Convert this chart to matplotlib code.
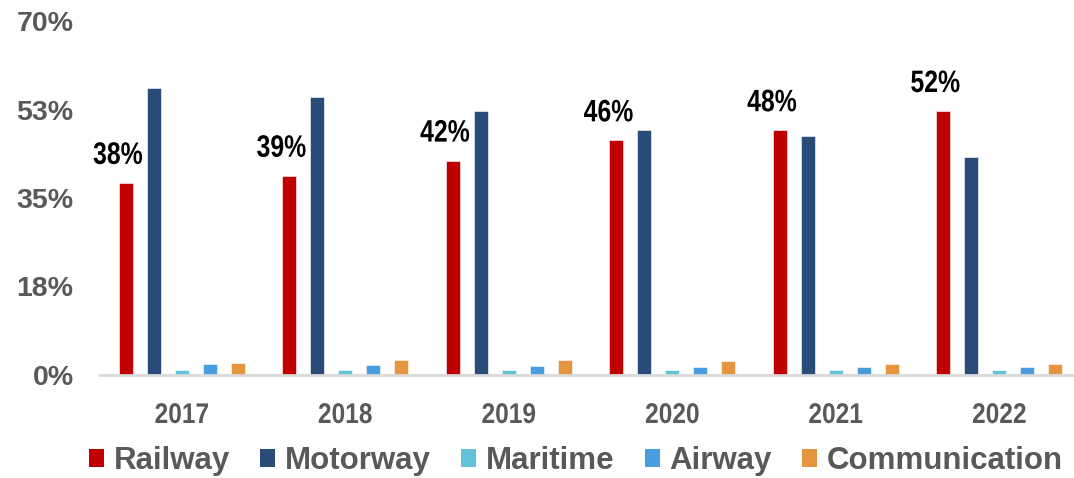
import matplotlib
matplotlib.use("Agg")
from matplotlib import pyplot as plt
from matplotlib.patches import Patch, PathPatch
from matplotlib.textpath import TextPath
from matplotlib.font_manager import FontProperties
import matplotlib.transforms as mtransforms
import numpy as np

years = ["2017", "2018", "2019", "2020", "2021", "2022"]
railway = [38.0, 39.4, 42.4, 46.4, 48.4, 52.2]
motorway = [56.7, 54.9, 52.2, 48.5, 47.2, 43.2]
maritime = [1.0, 1.0, 0.9, 0.9, 1.0, 1.0]
airway = [2.2, 2.0, 1.8, 1.6, 1.6, 1.6]
communication = [2.4, 2.9, 3.0, 2.7, 2.2, 2.2]

names = ["Railway", "Motorway", "Maritime", "Airway", "Communication"]
colors = ["#C00000", "#2A4C78", "#62C2DA", "#479DDD", "#E59540"]
series = [railway, motorway, maritime, airway, communication]

grey = "#595959"
wide = ["Liberation Sans", "DejaVu Sans"]
bold = FontProperties(family="Liberation Sans", weight="bold")


def squeezed_text(ax, x, y, s, px, squeeze, color, dx=0, dy=0, base=None):
    # condensed bold text: glyph outlines squeezed horizontally, sized in pixels
    # (x, y) is the anchor, text is centred on it with its baseline dy px above
    tp = TextPath((0, 0), s, size=1, prop=bold)
    bb = tp.get_extents()
    t = (mtransforms.Affine2D()
         .translate(-(bb.x0 + bb.x1) / 2, 0)
         .scale(px * squeeze, px)
         .translate(dx, dy)
         + mtransforms.ScaledTranslation(x, y, base or ax.transData))
    patch = PathPatch(tp, transform=t, facecolor=color, edgecolor="none",
                      clip_on=False)
    ax.add_artist(patch)


fig = plt.figure(figsize=(10.74, 4.78), dpi=100)
ax = fig.add_axes([100 / 1074, 1 - 375 / 478, 981 / 1074, 354 / 478])

x = np.arange(len(years))
step = 0.171
width = 0.0855
for i, (vals, col) in enumerate(zip(series, colors)):
    ax.bar(x + (i - 2) * step, vals, width, color=col, edgecolor="white",
           linewidth=0.4, zorder=2)

ax.set_xlim(-0.5, 5.5)
ax.set_ylim(0, 70)

# percentage on top of the railway bars
for xi, v in zip(x, railway):
    squeezed_text(ax, xi - 2 * step, v, "{:.0f}%".format(v), 31, 0.8, "black",
                  dx=-8, dy=19)

# year labels under each group
for xi, yr in zip(x, years):
    squeezed_text(ax, xi, 0, yr, 28.5, 0.86, grey, dy=-48,
                  base=ax.get_xaxis_transform())

yt = [0, 17.5, 35, 52.5, 70]
ax.set_yticks(yt)
ax.set_yticklabels(["0%", "18%", "35%", "53%", "70%"])
ax.set_xticks(x)
ax.set_xticklabels([])

for lab in ax.get_yticklabels():
    lab.set_fontfamily(wide)
    lab.set_fontweight("bold")
    lab.set_fontsize(20.5)
    lab.set_color(grey)

ax.tick_params(axis="y", length=0, pad=19)
ax.tick_params(axis="x", length=0)

for s in ["top", "right", "left"]:
    ax.spines[s].set_visible(False)
ax.spines["bottom"].set_color("#D9D9D9")
ax.spines["bottom"].set_linewidth(2)
ax.spines["bottom"].set_zorder(3)

handles = [Patch(facecolor=c, label=n) for c, n in zip(colors, names)]
leg = fig.legend(handles=handles, loc="center", ncol=5,
                 bbox_to_anchor=(576 / 1074, 1 - 461 / 478), frameon=False,
                 handlelength=0.48, handleheight=0.48, handletextpad=0.3,
                 columnspacing=0.98, borderpad=0,
                 prop={"family": wide, "weight": "bold", "size": 22.5})
for t in leg.get_texts():
    t.set_color(grey)

fig.savefig("out.png", dpi=100)
